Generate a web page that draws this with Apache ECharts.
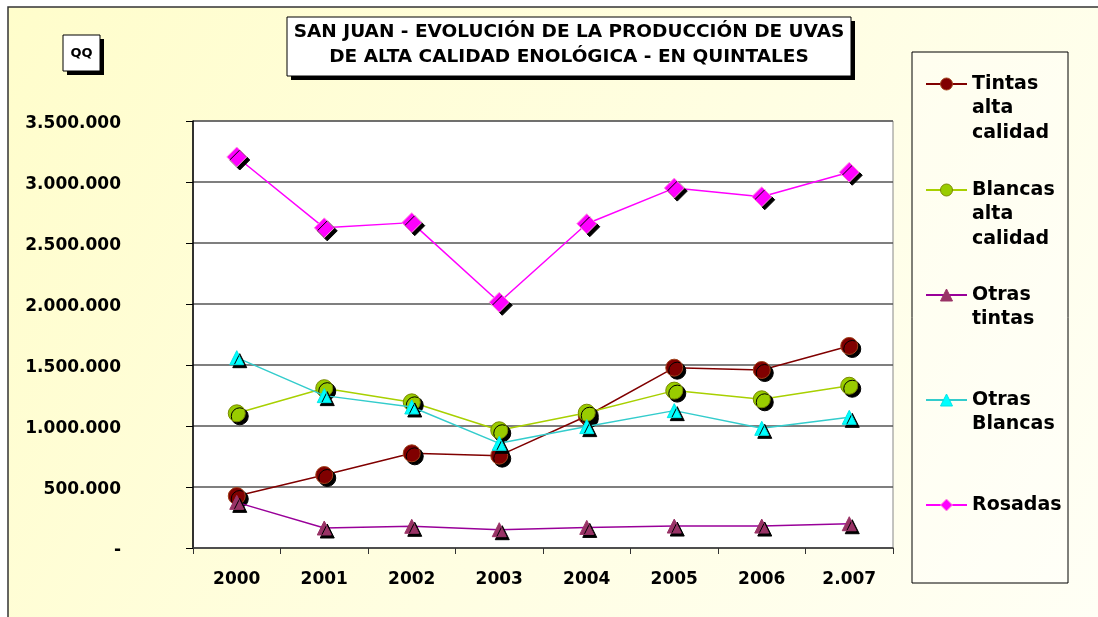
<!DOCTYPE html>
<html>
<head>
<meta charset="utf-8">
<script src="https://cdn.jsdelivr.net/npm/echarts@6/dist/echarts.min.js"></script>
<style>
html,body{margin:0;padding:0;background:#fff;}
#chart{width:1098px;height:617px;}
</style>
</head>
<body>
<div id="chart"></div>
<script>
// ---- data ----
const categories = ['2000', '2001', '2002', '2003', '2004', '2005', '2006', '2.007'];
const tintasAlta   = [426000, 598000, 776000, 757000, 1082000, 1478000, 1459000, 1656000];
const blancasAlta  = [1104000, 1310000, 1194000, 965000, 1109000, 1290000, 1219000, 1330000];
const otrasTintas  = [374000, 164000, 178000, 150000, 169000, 180000, 180000, 199000];
const otrasBlancas = [1560000, 1249000, 1156000, 858000, 995000, 1126000, 981000, 1071000];
const rosadas      = [3205000, 2624000, 2667000, 2014000, 2658000, 2950000, 2879000, 3080000];
const seriesNames  = ['Tintas alta calidad', 'Blancas alta calidad', 'Otras tintas', 'Otras Blancas', 'Rosadas'];
const legendLabels = ['Tintas\nalta\ncalidad', 'Blancas\nalta\ncalidad', 'Otras\ntintas', 'Otras\nBlancas', 'Rosadas'];
const yTickLabels  = ['-', '500.000', '1.000.000', '1.500.000', '2.000.000', '2.500.000', '3.000.000', '3.500.000'];
const titleText = 'SAN JUAN - EVOLUCIÓN DE LA PRODUCCIÓN DE UVAS\nDE ALTA CALIDAD ENOLÓGICA - EN QUINTALES';
const unitText = 'QQ';

const FONT = 'DejaVu Sans';
const styles = [
  {line: '#800000', fill: '#800000', border: '#A0401A', symbol: 'circle', size: 17},
  {line: '#A8D000', fill: '#99CC00', border: '#7A8A00', symbol: 'circle', size: 17},
  {line: '#990099', fill: '#993366', border: '#993366', symbol: 'triangle', size: 14},
  {line: '#33CCCC', fill: '#00FFFF', border: '#00E5E5', symbol: 'triangle', size: 14},
  {line: '#FF00FF', fill: '#FF00FF', border: '#FF99DD', symbol: 'diamond', size: 20}
];
const allData = [tintasAlta, blancasAlta, otrasTintas, otrasBlancas, rosadas];
const legendIconY = [84, 190, 295, 400, 505];
const LH = 24.5;

const chart = echarts.init(document.getElementById('chart'), null, {renderer: 'canvas'});

const series = allData.map((d, i) => ({
  name: seriesNames[i],
  type: 'line',
  data: d,
  symbol: styles[i].symbol,
  symbolSize: styles[i].size,
  lineStyle: {color: styles[i].line, width: 1.5},
  itemStyle: {
    color: styles[i].fill, borderColor: styles[i].border, borderWidth: 1,
    shadowColor: '#000', shadowOffsetX: 3, shadowOffsetY: 3, shadowBlur: 0
  },
  emphasis: {disabled: true},
  z: 3 + i
}));

const legends = seriesNames.map((nm, i) => {
  const n = legendLabels[i].split('\n').length;
  // leading empty lines so that the icon sits level with the first text line
  const txt = '\n'.repeat(n - 1) + legendLabels[i];
  return {
    data: [nm],
    orient: 'vertical',
    left: 925,
    top: legendIconY[i] - (2 * n - 1) * LH / 2,
    padding: 0,
    itemGap: 0,
    itemWidth: 41,
    itemHeight: 15,
    selectedMode: false,
    formatter: () => txt,
    itemStyle: {shadowColor: 'rgba(0,0,0,0)', shadowOffsetX: 0, shadowOffsetY: 0, shadowBlur: 0, borderWidth: 1},
    textStyle: {
      fontFamily: FONT, fontWeight: 'bold', fontSize: 19, color: '#000',
      lineHeight: LH
    }
  };
});

const option = {
  animation: false,
  backgroundColor: 'transparent',
  graphic: [
    {
      type: 'rect', z: -10, silent: true,
      shape: {x: 8, y: 7, width: 1200, height: 700},
      style: {
        fill: new echarts.graphic.LinearGradient(0, 0, 1, 1, [
          {offset: 0, color: '#FFFDCB'},
          {offset: 1, color: '#FFFFFA'}
        ]),
        stroke: '#333', lineWidth: 1.5
      }
    },
    // title box shadow + box + text
    {type: 'rect', silent: true, shape: {x: 291, y: 21, width: 564, height: 59}, style: {fill: '#000'}, z: 10},
    {type: 'rect', silent: true, shape: {x: 287, y: 17, width: 564, height: 59}, style: {fill: '#fff', stroke: '#000', lineWidth: 1}, z: 11},
    {type: 'text', silent: true, z: 12, x: 569, y: 45,
      style: {text: titleText, fontFamily: FONT, fontWeight: 'bold', fontSize: 18.5, lineHeight: 25,
        fill: '#000', align: 'center', verticalAlign: 'middle'}},
    // QQ box
    {type: 'rect', silent: true, shape: {x: 67, y: 39, width: 37, height: 36}, style: {fill: '#000'}, z: 10},
    {type: 'rect', silent: true, shape: {x: 63, y: 35, width: 37, height: 36}, style: {fill: '#fff', stroke: '#000', lineWidth: 1}, z: 11},
    {type: 'text', silent: true, z: 12, x: 81.5, y: 54,
      style: {text: unitText, fontFamily: FONT, fontWeight: 'bold', fontSize: 13, fill: '#000', align: 'center', verticalAlign: 'middle'}},
    // legend frame
    {type: 'rect', silent: true, z: 1, shape: {x: 912, y: 52, width: 156, height: 531},
      style: {fill: 'rgba(255,255,255,0.35)', stroke: '#000', lineWidth: 1}}
  ],
  legend: legends,
  grid: {
    left: 193, right: 205, top: 121, bottom: 69,
    show: true, backgroundColor: '#fff', borderColor: '#888', borderWidth: 1
  },
  xAxis: {
    type: 'category',
    data: categories,
    boundaryGap: true,
    axisLine: {lineStyle: {color: '#444', width: 1.5}},
    axisTick: {show: true, length: 6, inside: false, lineStyle: {color: '#333'}, alignWithLabel: false},
    axisLabel: {fontFamily: FONT, fontWeight: 'bold', fontSize: 17, color: '#000', margin: 23},
    splitLine: {show: false}
  },
  yAxis: {
    type: 'value',
    min: 0, max: 3500000, interval: 500000,
    axisLine: {show: true, lineStyle: {color: '#000', width: 1.5}},
    axisTick: {show: true, length: 7, lineStyle: {color: '#000'}},
    axisLabel: {
      fontFamily: FONT, fontWeight: 'bold', fontSize: 17, color: '#000', margin: 72,
      verticalAlign: 'top', lineHeight: 6,
      formatter: (v) => yTickLabels[Math.round(v / 500000)]
    },
    splitLine: {show: true, lineStyle: {color: '#555', width: 1.5}}
  },
  series: series
};

chart.setOption(option);
</script>
</body>
</html>
